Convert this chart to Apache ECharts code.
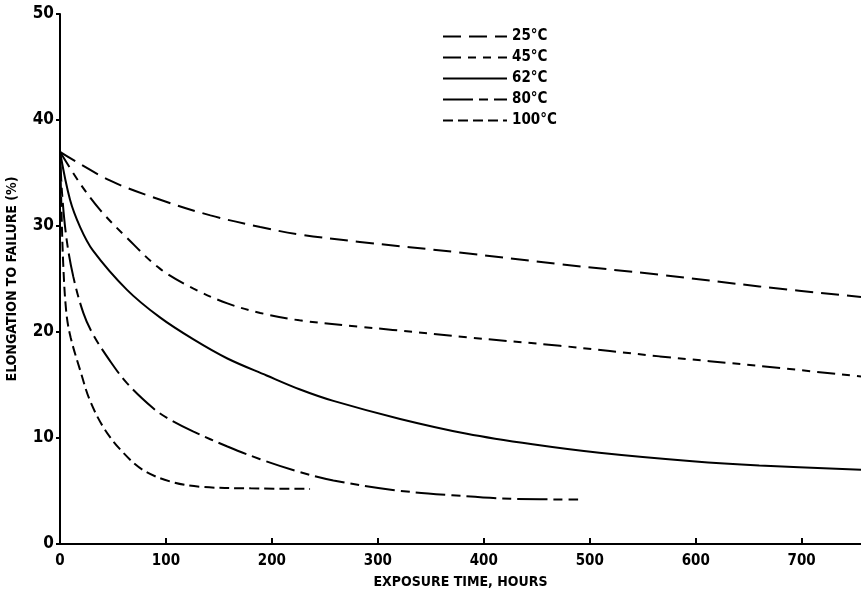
<!DOCTYPE html>
<html>
<head>
<meta charset="utf-8">
<script src="https://cdn.jsdelivr.net/npm/echarts@6/dist/echarts.min.js"></script>
<style>
  html, body { margin: 0; padding: 0; background: #fff; }
  #chart { width: 861px; height: 601px; }
</style>
</head>
<body>
<div id="chart"></div>
<script>
// Elongation to failure (%) versus exposure time (hours) at five temperatures
const seriesNames = ['25°C', '45°C', '62°C', '80°C', '100°C'];

const hours25 = [0, 47, 94, 142, 189, 226, 283, 377, 472, 566, 660, 756];
const elong25 = [37, 34.3, 32.5, 31.0, 29.9, 29.2, 28.5, 27.5, 26.4, 25.4, 24.3, 23.3];

const hours45 = [0, 19, 38, 63, 94, 126, 158, 189, 226, 283, 314, 384, 472, 566, 660, 756];
const elong45 = [37, 34.0, 31.5, 28.9, 26.0, 24.1, 22.7, 21.8, 21.1, 20.5, 20.2, 19.5, 18.7, 17.7, 16.8, 15.8];

const hours62 = [0, 9.4, 19, 31, 63, 94, 126, 158, 195, 226, 258, 321, 384, 446, 509, 597, 660, 756];
const elong62 = [37, 32.5, 29.9, 27.7, 24.0, 21.4, 19.3, 17.5, 15.9, 14.6, 13.5, 11.8, 10.4, 9.4, 8.6, 7.8, 7.4, 7.0];

const hours80 = [0, 2, 6.3, 12.6, 22, 31, 47, 63, 88, 101, 126, 158, 189, 226, 258, 314, 370, 430, 489];
const elong80 = [37, 33, 28.7, 25.2, 21.8, 19.8, 17.3, 15.2, 12.8, 11.9, 10.6, 9.2, 8.0, 6.8, 6.0, 5.1, 4.6, 4.25, 4.2];

const hours100 = [0, 1, 3, 6, 10, 19, 28, 41, 57, 78, 104, 132, 180, 236];
const elong100 = [37, 33, 26.5, 21.8, 19.5, 16.4, 13.6, 11.0, 8.9, 7.0, 5.9, 5.4, 5.25, 5.2];

const xTicks = [0, 100, 200, 300, 400, 500, 600, 700];
const yTicks = [0, 10, 20, 30, 40, 50];

const FONT = "'Liberation Sans Narrow', 'DejaVu Sans Condensed', 'Roboto Condensed', sans-serif";

function pairs(xs, ys) {
  return xs.map((x, i) => [x, ys[i]]);
}

// dash patterns for each temperature curve
const dashes = [
  [18, 8],
  [18, 7, 8, 7, 8, 7],
  'solid',
  [30, 6, 9, 6],
  [10, 5]
];

const curveData = [
  pairs(hours25, elong25),
  pairs(hours45, elong45),
  pairs(hours62, elong62),
  pairs(hours80, elong80),
  pairs(hours100, elong100)
];

const chart = echarts.init(document.getElementById('chart'), null, { renderer: 'canvas' });

chart.setOption({
  backgroundColor: '#ffffff',
  animation: false,
  grid: { left: 60, right: 0, top: 14, bottom: 57, containLabel: false, outerBoundsMode: 'none' },
  legend: {
    orient: 'vertical',
    left: 437,
    top: 24,
    itemWidth: 64,
    itemHeight: 14,
    itemGap: 6,
    itemStyle: { opacity: 0 },
    textStyle: { color: '#000', fontFamily: FONT, fontWeight: 'bold', fontSize: 15 },
    data: seriesNames
  },
  xAxis: {
    type: 'value',
    min: 0,
    max: 756,
    interval: 100,
    name: 'EXPOSURE TIME, HOURS',
    nameLocation: 'middle',
    nameGap: 31,
    nameTextStyle: { color: '#000', fontFamily: FONT, fontWeight: 'bold', fontSize: 14 },
    axisLine: { lineStyle: { color: '#000', width: 2 } },
    axisTick: { inside: true, length: 6, lineStyle: { color: '#000', width: 2 } },
    splitLine: { show: false },
    axisLabel: {
      color: '#000', fontFamily: FONT, fontWeight: 'bold', fontSize: 15, margin: 10,
      showMaxLabel: false,
      formatter: v => (xTicks.indexOf(v) >= 0 ? String(v) : '')
    }
  },
  yAxis: {
    type: 'value',
    min: 0,
    max: 50,
    interval: 10,
    name: 'ELONGATION TO FAILURE (%)',
    nameLocation: 'middle',
    nameGap: 41,
    nameTextStyle: { color: '#000', fontFamily: FONT, fontWeight: 'bold', fontSize: 14 },
    axisLine: { show: true, lineStyle: { color: '#000', width: 2 } },
    axisTick: { show: true, inside: false, length: 4, lineStyle: { color: '#000', width: 2 } },
    splitLine: { show: false },
    axisLabel: {
      color: '#000', fontFamily: FONT, fontWeight: 'bold', fontSize: 17, margin: 6,
      formatter: v => (yTicks.indexOf(v) >= 0 ? String(v) : '')
    }
  },
  series: seriesNames.map((name, i) => ({
    name: name,
    type: 'line',
    data: curveData[i],
    smooth: 0.35,
    showSymbol: false,
    symbol: 'none',
    clip: true,
    lineStyle: { color: '#000', width: 2, type: dashes[i] },
    itemStyle: { color: '#000' }
  }))
});
</script>
</body>
</html>
